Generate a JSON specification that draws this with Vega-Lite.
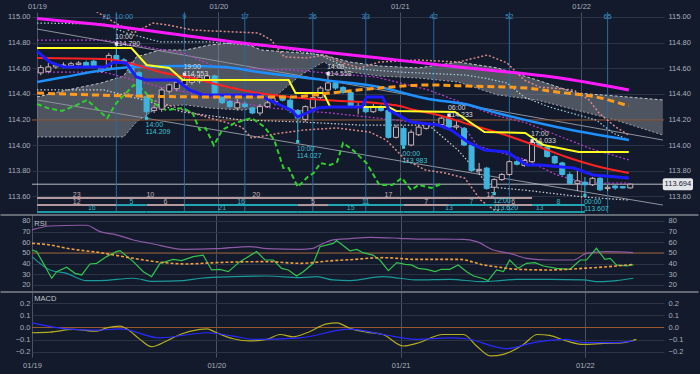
{
"$schema": "https://vega.github.io/schema/vega-lite/v6.json",
"background": "#131a2b",
"padding": 0,
"autosize": {"type": "pad"},
"bounds": "flush",
"spacing": 2,
"config": {
  "view": {"stroke": null},
  "font": "Liberation Sans",
  "axis": {"labelColor": "#a9b0bd", "labelFont": "Liberation Sans", "labelFontSize": 7.5, "domain": false, "ticks": false, "title": null, "gridColor": "#2b3345", "gridWidth": 1, "labelFlush": false, "labelOverlap": false}
},
"datasets": {
  "candles": [
    {"t":0.5,"o":114.563,"h":114.625,"l":114.545,"c":114.605},
    {"t":1.5,"o":114.575,"h":114.64,"l":114.56,"c":114.61},
    {"t":2.5,"o":114.61,"h":114.64,"l":114.595,"c":114.625},
    {"t":3.5,"o":114.62,"h":114.645,"l":114.6,"c":114.625},
    {"t":4.5,"o":114.62,"h":114.65,"l":114.61,"c":114.635},
    {"t":5.5,"o":114.63,"h":114.655,"l":114.62,"c":114.64},
    {"t":6.5,"o":114.645,"h":114.66,"l":114.6,"c":114.615},
    {"t":7.5,"o":114.655,"h":114.665,"l":114.6,"c":114.61},
    {"t":8.5,"o":114.575,"h":114.61,"l":114.565,"c":114.6},
    {"t":9.5,"o":114.6,"h":114.72,"l":114.58,"c":114.7},
    {"t":10.5,"o":114.7,"h":114.79,"l":114.65,"c":114.665},
    {"t":11.5,"o":114.665,"h":114.68,"l":114.63,"c":114.64},
    {"t":12.5,"o":114.64,"h":114.65,"l":114.56,"c":114.565},
    {"t":13.5,"o":114.565,"h":114.58,"l":114.38,"c":114.39},
    {"t":14.5,"o":114.38,"h":114.39,"l":114.209,"c":114.26},
    {"t":15.5,"o":114.27,"h":114.31,"l":114.25,"c":114.29},
    {"t":16.5,"o":114.28,"h":114.45,"l":114.26,"c":114.43},
    {"t":17.5,"o":114.42,"h":114.48,"l":114.4,"c":114.47},
    {"t":18.5,"o":114.44,"h":114.5,"l":114.42,"c":114.49},
    {"t":19.5,"o":114.47,"h":114.553,"l":114.45,"c":114.51},
    {"t":20.5,"o":114.49,"h":114.55,"l":114.47,"c":114.54},
    {"t":21.5,"o":114.5,"h":114.55,"l":114.48,"c":114.53},
    {"t":22.5,"o":114.5,"h":114.55,"l":114.49,"c":114.54},
    {"t":23.5,"o":114.54,"h":114.55,"l":114.36,"c":114.39},
    {"t":24.5,"o":114.39,"h":114.4,"l":114.32,"c":114.33},
    {"t":25.5,"o":114.34,"h":114.35,"l":114.29,"c":114.3},
    {"t":26.5,"o":114.29,"h":114.36,"l":114.27,"c":114.33},
    {"t":27.5,"o":114.32,"h":114.34,"l":114.29,"c":114.3},
    {"t":28.5,"o":114.29,"h":114.3,"l":114.24,"c":114.25},
    {"t":29.5,"o":114.25,"h":114.32,"l":114.23,"c":114.3},
    {"t":30.5,"o":114.3,"h":114.36,"l":114.29,"c":114.33},
    {"t":31.5,"o":114.33,"h":114.37,"l":114.31,"c":114.34},
    {"t":32.5,"o":114.37,"h":114.39,"l":114.34,"c":114.35},
    {"t":33.5,"o":114.35,"h":114.38,"l":114.25,"c":114.27},
    {"t":34.5,"o":114.27,"h":114.28,"l":114.027,"c":114.21},
    {"t":35.5,"o":114.2,"h":114.31,"l":114.18,"c":114.3},
    {"t":36.5,"o":114.29,"h":114.38,"l":114.28,"c":114.37},
    {"t":37.5,"o":114.37,"h":114.46,"l":114.36,"c":114.445},
    {"t":38.5,"o":114.43,"h":114.558,"l":114.42,"c":114.485},
    {"t":39.5,"o":114.485,"h":114.5,"l":114.43,"c":114.445},
    {"t":40.5,"o":114.45,"h":114.46,"l":114.4,"c":114.41},
    {"t":41.5,"o":114.41,"h":114.42,"l":114.29,"c":114.3},
    {"t":42.5,"o":114.3,"h":114.33,"l":114.24,"c":114.305},
    {"t":43.5,"o":114.3,"h":114.31,"l":114.25,"c":114.26},
    {"t":44.5,"o":114.26,"h":114.32,"l":114.25,"c":114.3},
    {"t":45.5,"o":114.3,"h":114.31,"l":114.26,"c":114.27},
    {"t":46.5,"o":114.27,"h":114.28,"l":114.05,"c":114.06},
    {"t":47.5,"o":114.06,"h":114.16,"l":114.05,"c":114.14},
    {"t":48.5,"o":114.13,"h":114.15,"l":113.983,"c":114.0},
    {"t":49.5,"o":114.0,"h":114.12,"l":113.99,"c":114.1},
    {"t":50.5,"o":114.08,"h":114.16,"l":114.07,"c":114.14},
    {"t":51.5,"o":114.13,"h":114.17,"l":114.12,"c":114.16},
    {"t":52.5,"o":114.16,"h":114.18,"l":114.14,"c":114.165},
    {"t":53.5,"o":114.16,"h":114.22,"l":114.15,"c":114.21},
    {"t":54.5,"o":114.21,"h":114.233,"l":114.13,"c":114.14},
    {"t":55.5,"o":114.14,"h":114.19,"l":114.12,"c":114.15},
    {"t":56.5,"o":114.13,"h":114.14,"l":113.99,"c":114.0},
    {"t":57.5,"o":114.0,"h":114.01,"l":113.79,"c":113.8},
    {"t":58.5,"o":113.8,"h":113.86,"l":113.77,"c":113.81},
    {"t":59.5,"o":113.82,"h":113.83,"l":113.65,"c":113.66},
    {"t":60.5,"o":113.67,"h":113.74,"l":113.62,"c":113.73},
    {"t":61.5,"o":113.73,"h":113.78,"l":113.72,"c":113.77},
    {"t":62.5,"o":113.77,"h":113.88,"l":113.76,"c":113.87},
    {"t":63.5,"o":113.87,"h":113.89,"l":113.84,"c":113.85},
    {"t":64.5,"o":113.84,"h":113.89,"l":113.83,"c":113.88},
    {"t":65.5,"o":113.87,"h":114.033,"l":113.86,"c":114.02},
    {"t":66.5,"o":114.02,"h":114.03,"l":113.98,"c":113.99},
    {"t":67.5,"o":113.98,"h":113.99,"l":113.9,"c":113.91},
    {"t":68.5,"o":113.91,"h":113.92,"l":113.85,"c":113.86},
    {"t":69.5,"o":113.86,"h":113.87,"l":113.76,"c":113.77},
    {"t":70.5,"o":113.77,"h":113.79,"l":113.69,"c":113.7},
    {"t":71.5,"o":113.7,"h":113.8,"l":113.64,"c":113.72},
    {"t":72.5,"o":113.71,"h":113.75,"l":113.607,"c":113.69},
    {"t":73.5,"o":113.69,"h":113.75,"l":113.68,"c":113.74},
    {"t":74.5,"o":113.74,"h":113.75,"l":113.64,"c":113.65},
    {"t":75.5,"o":113.66,"h":113.69,"l":113.64,"c":113.67},
    {"t":76.5,"o":113.68,"h":113.69,"l":113.65,"c":113.665},
    {"t":77.5,"o":113.675,"h":113.68,"l":113.66,"c":113.665},
    {"t":78.5,"o":113.665,"h":113.7,"l":113.66,"c":113.694}
  ],
  "magenta": [{"t":0,"p":114.988},{"t":7.55,"p":114.945},{"t":27.1,"p":114.797},{"t":45.3,"p":114.68},{"t":55.7,"p":114.609},{"t":68.75,"p":114.527},{"t":78.3,"p":114.43}],
  "orange": [{"t":0,"p":114.406},{"t":7.55,"p":114.391},{"t":24.5,"p":114.375},{"t":33.6,"p":114.375},{"t":38.8,"p":114.406},{"t":45.3,"p":114.445},{"t":51.8,"p":114.469},{"t":57.0,"p":114.461},{"t":64.8,"p":114.445},{"t":68.75,"p":114.414},{"t":74.0,"p":114.375},{"t":78.3,"p":114.305}],
  "lightblue": [{"t":0,"p":114.492},{"t":3.65,"p":114.531},{"t":8.85,"p":114.586},{"t":12.76,"p":114.609},{"t":19.3,"p":114.617},{"t":24.7,"p":114.609},{"t":29.3,"p":114.57},{"t":37.9,"p":114.508},{"t":45.3,"p":114.453},{"t":51.8,"p":114.36},{"t":56.6,"p":114.32},{"t":60.9,"p":114.25},{"t":68.75,"p":114.141},{"t":78.3,"p":114.039}],
  "red": [{"t":0,"p":114.68},{"t":9.0,"p":114.672},{"t":14.06,"p":114.61},{"t":16.3,"p":114.57},{"t":20.6,"p":114.523},{"t":24.1,"p":114.469},{"t":29.3,"p":114.406},{"t":33.6,"p":114.375},{"t":37.9,"p":114.352},{"t":44.9,"p":114.328},{"t":47.5,"p":114.31},{"t":50.0,"p":114.273},{"t":53.1,"p":114.234},{"t":57.0,"p":114.164},{"t":62.0,"p":114.078},{"t":66.15,"p":113.992},{"t":70.05,"p":113.906},{"t":73.96,"p":113.836},{"t":78.3,"p":113.781}],
  "yellow": [{"t":0,"p":114.758},{"t":12.5,"p":114.758},{"t":14.5,"p":114.625},{"t":17.5,"p":114.602},{"t":19.3,"p":114.508},{"t":33.3,"p":114.508},{"t":34.2,"p":114.406},{"t":37.9,"p":114.406},{"t":38.8,"p":114.297},{"t":46.5,"p":114.297},{"t":47.5,"p":114.266},{"t":55.3,"p":114.258},{"t":59.2,"p":114.102},{"t":64.6,"p":114.094},{"t":67.0,"p":114.0},{"t":71.7,"p":113.945},{"t":78.3,"p":113.945}],
  "darkblue": [{"t":0,"p":114.734},{"t":1.7,"p":114.648},{"t":3.6,"p":114.609},{"t":8.9,"p":114.609},{"t":10.2,"p":114.648},{"t":11.8,"p":114.641},{"t":13.15,"p":114.531},{"t":14.45,"p":114.508},{"t":18.4,"p":114.508},{"t":20.2,"p":114.43},{"t":21.9,"p":114.391},{"t":29.3,"p":114.391},{"t":33.6,"p":114.273},{"t":34.5,"p":114.219},{"t":37.2,"p":114.289},{"t":38.8,"p":114.297},{"t":43.0,"p":114.297},{"t":43.6,"p":114.375},{"t":45.7,"p":114.375},{"t":46.6,"p":114.273},{"t":49.5,"p":114.18},{"t":53.1,"p":114.156},{"t":54.8,"p":114.117},{"t":57.0,"p":114.023},{"t":59.2,"p":113.961},{"t":62.2,"p":113.945},{"t":64.8,"p":113.844},{"t":66.5,"p":113.844},{"t":71.0,"p":113.82},{"t":73.6,"p":113.766},{"t":78.3,"p":113.742}],
  "chikou": [{"t":0,"p":114.32},{"t":1.4,"p":114.289},{"t":3.3,"p":114.266},{"t":5.3,"p":114.313},{"t":6.6,"p":114.352},{"t":9.3,"p":114.211},{"t":10.5,"p":114.328},{"t":12.8,"p":114.469},{"t":14.1,"p":114.43},{"t":15.4,"p":114.328},{"t":17.1,"p":114.273},{"t":19.3,"p":114.289},{"t":20.6,"p":114.25},{"t":21.5,"p":114.117},{"t":22.3,"p":114.133},{"t":23.4,"p":113.997},{"t":24.5,"p":114.117},{"t":26.2,"p":114.172},{"t":28.4,"p":114.211},{"t":30.1,"p":114.141},{"t":31.4,"p":114.039},{"t":32.6,"p":113.82},{"t":33.3,"p":113.82},{"t":34.5,"p":113.672},{"t":35.8,"p":113.75},{"t":36.6,"p":113.781},{"t":37.5,"p":113.859},{"t":38.8,"p":113.844},{"t":39.7,"p":113.867},{"t":40.5,"p":114.016},{"t":41.8,"p":113.961},{"t":43.6,"p":113.859},{"t":45.3,"p":113.688},{"t":47.0,"p":113.688},{"t":48.3,"p":113.742},{"t":49.5,"p":113.648},{"t":50.5,"p":113.688},{"t":52.2,"p":113.664},{"t":53.4,"p":113.695}],
  "bbU1": [{"t":0,"p":114.82},{"t":8.85,"p":114.82},{"t":19.27,"p":114.719},{"t":24.1,"p":114.602},{"t":33.6,"p":114.586},{"t":44.9,"p":114.531},{"t":51.8,"p":114.43},{"t":60.5,"p":114.234},{"t":64.8,"p":114.172},{"t":73.0,"p":113.977},{"t":78.3,"p":113.883}],
  "bbL1": [{"t":0,"p":114.57},{"t":8.85,"p":114.57},{"t":16.3,"p":114.453},{"t":27.1,"p":114.328},{"t":31.0,"p":114.289},{"t":38.8,"p":114.25},{"t":47.5,"p":114.195},{"t":56.6,"p":114.133},{"t":58.3,"p":113.992},{"t":64.8,"p":113.883},{"t":68.75,"p":113.766},{"t":72.66,"p":113.703},{"t":78.3,"p":113.703}],
  "bbU2": [{"t":0,"p":114.953},{"t":8.85,"p":114.945},{"t":11.85,"p":114.875},{"t":16.3,"p":114.805},{"t":22.8,"p":114.805},{"t":31.4,"p":114.766},{"t":37.5,"p":114.703},{"t":41.0,"p":114.602},{"t":47.9,"p":114.57},{"t":56.6,"p":114.547},{"t":59.2,"p":114.523},{"t":62.2,"p":114.484},{"t":64.45,"p":114.375},{"t":67.8,"p":114.297},{"t":74.0,"p":114.195},{"t":76.2,"p":114.094},{"t":78.3,"p":114.039}],
  "bbL2": [{"t":0,"p":114.43},{"t":8.85,"p":114.43},{"t":14.06,"p":114.352},{"t":19.27,"p":114.258},{"t":27.1,"p":114.195},{"t":34.9,"p":114.18},{"t":42.7,"p":114.156},{"t":51.8,"p":114.156},{"t":55.7,"p":113.961},{"t":60.0,"p":113.672},{"t":64.45,"p":113.648},{"t":72.3,"p":113.594},{"t":78.3,"p":113.57}],
  "bbU3": [{"t":0,"p":115.07},{"t":7.55,"p":115.055},{"t":9.25,"p":114.992},{"t":12.76,"p":114.875},{"t":15.36,"p":114.953},{"t":17.3,"p":114.938},{"t":20.6,"p":114.898},{"t":29.3,"p":114.875},{"t":31.0,"p":114.82},{"t":32.7,"p":114.688},{"t":35.8,"p":114.68},{"t":37.9,"p":114.703},{"t":40.5,"p":114.641},{"t":42.7,"p":114.602},{"t":45.3,"p":114.648},{"t":50.5,"p":114.664},{"t":55.7,"p":114.648},{"t":59.6,"p":114.703},{"t":62.2,"p":114.641},{"t":64.45,"p":114.508},{"t":66.5,"p":114.453},{"t":71.0,"p":114.43},{"t":73.05,"p":114.352},{"t":74.35,"p":114.25},{"t":76.56,"p":114.141},{"t":78.3,"p":114.078}],
  "bbL3": [{"t":11.46,"p":114.406},{"t":14.45,"p":114.367},{"t":20.6,"p":114.25},{"t":27.1,"p":114.141},{"t":28.4,"p":114.055},{"t":32.3,"p":114.094},{"t":35.3,"p":114.117},{"t":39.7,"p":114.133},{"t":44.0,"p":114.102},{"t":46.2,"p":114.039},{"t":48.8,"p":113.883},{"t":51.4,"p":113.805},{"t":54.0,"p":113.781},{"t":56.6,"p":113.742},{"t":58.7,"p":113.57},{"t":60.5,"p":113.492},{"t":64.8,"p":113.445},{"t":78.3,"p":113.445}],
  "cloud": [{"t":0,"u":114.375,"l":114.063},{"t":4.04,"u":114.43,"l":114.063},{"t":8.46,"u":114.484,"l":114.063},{"t":11.46,"u":114.539,"l":114.063},{"t":13.15,"u":114.688,"l":114.18},{"t":16.28,"u":114.742,"l":114.305},{"t":19.66,"u":114.742,"l":114.313},{"t":22.79,"u":114.781,"l":114.289},{"t":27.08,"u":114.805,"l":114.273},{"t":29.69,"u":114.742,"l":114.289},{"t":34.9,"u":114.719,"l":114.547},{"t":37.89,"u":114.703,"l":114.648},{"t":41.41,"u":114.648,"l":114.57},{"t":45.31,"u":114.617,"l":114.539},{"t":50.52,"u":114.602,"l":114.523},{"t":55.73,"u":114.648,"l":114.492},{"t":60.94,"u":114.602,"l":114.391},{"t":66.15,"u":114.508,"l":114.352},{"t":71.35,"u":114.406,"l":114.273},{"t":76.56,"u":114.383,"l":114.195},{"t":82.81,"u":114.352,"l":114.078}],
  "trend": [{"id":1,"t":0,"p":114.906},{"id":1,"t":82.81,"p":114.039},{"id":2,"t":0,"p":114.352},{"id":2,"t":82.81,"p":113.531}],
  "level": [{"p":114.195}],
  "last": [{"p":113.694,"s":"113.694"}],
  "cyc": [{"t":10.5},{"t":19.5},{"t":27.5},{"t":36.5},{"t":43.5},{"t":52.5},{"t":62.5},{"t":75.5}],
  "cycText": [{"t":9.2,"n":"26"},{"t":11.5,"n":"10:00"},{"t":19.5,"n":"9"},{"t":27.5,"n":"17"},{"t":36.5,"n":"26"},{"t":43.5,"n":"33"},{"t":52.5,"n":"42"},{"t":62.5,"n":"52"},{"t":75.5,"n":"65"}],
  "ann": [
    {"t":10.5,"p":114.79,"k":"hi","s":"10:00\n114.790"},
    {"t":14.5,"p":114.209,"k":"lo","s":"14:00\n114.209"},
    {"t":19.5,"p":114.553,"k":"hi","s":"19:00\n114.553"},
    {"t":34.5,"p":114.027,"k":"lo","s":"10:00\n114.027"},
    {"t":38.5,"p":114.558,"k":"hi","s":"14:00\n114.558"},
    {"t":48.5,"p":113.983,"k":"lo","s":"00:00\n113.983"},
    {"t":54.5,"p":114.233,"k":"hi","s":"06:00\n114.233"},
    {"t":60.5,"p":113.62,"k":"lo","s":"12:00\n113.620"},
    {"t":65.5,"p":114.033,"k":"hi","s":"17:00\n114.033"},
    {"t":72.5,"p":113.607,"k":"lo","s":"00:00\n113.607"}
  ],
  "r1": [{"a":0,"b":10.5,"m":5.25,"n":"23"},{"a":10.5,"b":19.5,"m":15,"n":"10"},{"a":19.5,"b":38.5,"m":29,"n":"20"},{"a":38.5,"b":54.5,"m":46.5,"n":"17"},{"a":54.5,"b":65.5,"m":60,"n":"12"}],
  "r2": [{"a":0,"b":10.5,"m":5.25,"n":"12","k":"up"},{"a":10.5,"b":14.5,"m":12.5,"n":"5","k":"dn"},{"a":14.5,"b":19.5,"m":17,"n":"6","k":"up"},{"a":19.5,"b":34.5,"m":27,"n":"16","k":"dn"},{"a":34.5,"b":38.5,"m":36.5,"n":"5","k":"up"},{"a":38.5,"b":48.5,"m":43.5,"n":"11","k":"dn"},{"a":48.5,"b":54.5,"m":51.5,"n":"7","k":"up"},{"a":54.5,"b":60.5,"m":57.5,"n":"7","k":"dn"},{"a":60.5,"b":65.5,"m":63,"n":"6","k":"up"},{"a":65.5,"b":72.5,"m":69,"n":"8","k":"dn"}],
  "r3": [{"a":0,"b":14.5,"m":7.25,"n":"16"},{"a":14.5,"b":34.5,"m":24.5,"n":"21"},{"a":34.5,"b":48.5,"m":41.5,"n":"15"},{"a":48.5,"b":60.5,"m":54.5,"n":"13"},{"a":60.5,"b":72.5,"m":66.5,"n":"13"}],
  "sep": [{"a":-4.1,"b":86.8}],
  "rsiRef": [{"v":50}],
  "macdRef": [{"v":0}],
  "rsiP": [{"t":0,"v":71.6},{"t":2.34,"v":75.3},{"t":6.25,"v":76},{"t":7.12,"v":76},{"t":8.85,"v":70},{"t":11.0,"v":67},{"t":13.2,"v":62.2},{"t":15.4,"v":59.1},{"t":19.7,"v":53.4},{"t":24.0,"v":54},{"t":28.4,"v":56},{"t":30.6,"v":54},{"t":34.9,"v":53.4},{"t":36.6,"v":54.4},{"t":37.5,"v":57.5},{"t":39.2,"v":62.2},{"t":41.4,"v":63.5},{"t":44.0,"v":64.7},{"t":47.9,"v":63.75},{"t":50.1,"v":63},{"t":56.2,"v":62.8},{"t":57.9,"v":60.6},{"t":60.1,"v":52.8},{"t":62.2,"v":49.7},{"t":64.4,"v":45},{"t":67.4,"v":43.4},{"t":70.5,"v":43.4},{"t":72.2,"v":49.7},{"t":74.8,"v":51.3},{"t":78.3,"v":50.3}],
  "rsiG": [{"t":0,"v":52.8},{"t":0.61,"v":51.3},{"t":1.48,"v":40.3},{"t":2.56,"v":26.3},{"t":3.21,"v":32.5},{"t":4.51,"v":36.6},{"t":5.6,"v":30.9},{"t":6.47,"v":29.4},{"t":7.55,"v":39.7},{"t":8.42,"v":40.3},{"t":9.72,"v":46.6},{"t":11.0,"v":51.3},{"t":11.46,"v":52.2},{"t":13.19,"v":41.9},{"t":14.5,"v":32.5},{"t":15.58,"v":27.8},{"t":16.67,"v":40.3},{"t":18.4,"v":44},{"t":19.49,"v":42.8},{"t":21.0,"v":46.6},{"t":22.3,"v":48},{"t":23.39,"v":34.1},{"t":24.48,"v":34.7},{"t":25.56,"v":32.5},{"t":27.08,"v":41.9},{"t":29.25,"v":51.3},{"t":30.34,"v":43.4},{"t":31.42,"v":43.4},{"t":32.51,"v":35.6},{"t":33.38,"v":34.1},{"t":34.46,"v":28.4},{"t":35.33,"v":32.5},{"t":36.63,"v":40.3},{"t":37.5,"v":55.9},{"t":39.24,"v":59},{"t":39.67,"v":61.6},{"t":41.4,"v":52},{"t":42.3,"v":53.4},{"t":43.1,"v":50.3},{"t":44.4,"v":48},{"t":45.3,"v":43.4},{"t":46.4,"v":33.4},{"t":47.5,"v":41},{"t":48.6,"v":39.4},{"t":49.4,"v":38.8},{"t":50.3,"v":35.6},{"t":51.4,"v":34.7},{"t":52.5,"v":32.5},{"t":53.3,"v":34.7},{"t":54.4,"v":34.7},{"t":55.5,"v":38.8},{"t":56.6,"v":32.5},{"t":57.5,"v":28.4},{"t":58.6,"v":26.3},{"t":59.4,"v":24.1},{"t":60.5,"v":34.1},{"t":61.4,"v":32.5},{"t":62.2,"v":43.4},{"t":63.3,"v":35.6},{"t":64.4,"v":40.3},{"t":65.5,"v":41},{"t":66.6,"v":37.8},{"t":68.3,"v":35.6},{"t":70.05,"v":34.7},{"t":71.4,"v":43.4},{"t":72.2,"v":43.4},{"t":73.5,"v":54.4},{"t":74.6,"v":44},{"t":75.3,"v":45},{"t":76.1,"v":38.8},{"t":77.4,"v":37.8},{"t":78.3,"v":38.8}],
  "rsiT": [{"t":0,"v":46.6},{"t":2.34,"v":34.1},{"t":4.51,"v":30.9},{"t":7.12,"v":24.1},{"t":8.85,"v":24.1},{"t":13.2,"v":26.3},{"t":15.8,"v":23.4},{"t":19.7,"v":24.1},{"t":21.9,"v":26.3},{"t":26.2,"v":27.8},{"t":30.6,"v":28.4},{"t":34.9,"v":26.9},{"t":37.1,"v":27.8},{"t":39.2,"v":24.7},{"t":41.4,"v":24.1},{"t":45.7,"v":27.8},{"t":47.9,"v":26.3},{"t":50.1,"v":24.7},{"t":54.4,"v":25.3},{"t":58.8,"v":23.1},{"t":60.9,"v":24.1},{"t":63.1,"v":25.3},{"t":67.4,"v":25.3},{"t":71.8,"v":24.7},{"t":73.9,"v":23.1},{"t":76.1,"v":24.1},{"t":78.3,"v":26.3}],
  "rsiO": [{"t":0,"v":59},{"t":2.34,"v":57.5},{"t":4.51,"v":54.4},{"t":8.85,"v":50.3},{"t":13.2,"v":45},{"t":16.7,"v":41.3},{"t":20.1,"v":39.7},{"t":24.0,"v":41},{"t":30.6,"v":41.9},{"t":34.9,"v":40.3},{"t":39.2,"v":42.8},{"t":41.4,"v":43.7},{"t":45.7,"v":45.6},{"t":50.1,"v":44},{"t":55.7,"v":44},{"t":58.8,"v":38.8},{"t":60.9,"v":36.6},{"t":63.1,"v":34.7},{"t":67.4,"v":34.1},{"t":71.8,"v":35.6},{"t":76.1,"v":37.8},{"t":78.3,"v":39.4}],
  "macdY": [{"t":0,"v":-0.043},{"t":2.34,"v":-0.038},{"t":5.38,"v":-0.016},{"t":8.42,"v":-0.03},{"t":9.72,"v":-0.003},{"t":11.46,"v":0.011},{"t":12.33,"v":-0.01},{"t":14.06,"v":-0.097},{"t":15.58,"v":-0.157},{"t":17.53,"v":-0.11},{"t":19.27,"v":-0.057},{"t":21.88,"v":-0.016},{"t":22.74,"v":-0.011},{"t":24.05,"v":-0.043},{"t":26.2,"v":-0.092},{"t":28.4,"v":-0.11},{"t":30.6,"v":-0.097},{"t":32.3,"v":-0.057},{"t":34.0,"v":-0.076},{"t":35.8,"v":-0.043},{"t":38.4,"v":0.03},{"t":39.7,"v":0.038},{"t":41.4,"v":-0.007},{"t":43.6,"v":-0.038},{"t":45.7,"v":-0.057},{"t":48.3,"v":-0.151},{"t":50.1,"v":-0.13},{"t":53.5,"v":-0.057},{"t":56.2,"v":-0.057},{"t":57.9,"v":-0.151},{"t":59.7,"v":-0.232},{"t":61.4,"v":-0.219},{"t":64.0,"v":-0.138},{"t":65.8,"v":-0.057},{"t":67.4,"v":-0.065},{"t":69.6,"v":-0.11},{"t":71.8,"v":-0.138},{"t":74.4,"v":-0.13},{"t":77.0,"v":-0.124},{"t":78.7,"v":-0.097}],
  "macdB": [{"t":0,"v":0.038},{"t":4.51,"v":-0.011},{"t":8.42,"v":-0.022},{"t":11.46,"v":-0.011},{"t":16.67,"v":-0.084},{"t":22.74,"v":-0.043},{"t":26.2,"v":-0.07},{"t":28.8,"v":-0.097},{"t":34.9,"v":-0.084},{"t":41.4,"v":-0.013},{"t":45.7,"v":-0.057},{"t":50.1,"v":-0.097},{"t":54.4,"v":-0.084},{"t":56.6,"v":-0.092},{"t":61.8,"v":-0.173},{"t":65.3,"v":-0.124},{"t":69.6,"v":-0.097},{"t":71.8,"v":-0.124},{"t":76.1,"v":-0.124},{"t":78.3,"v":-0.11}]
},
"vconcat": [
{
  "width": 632, "height": 201,
  "resolve": {"axis": {"x": "independent", "y": "independent"}},
  "layer": [
    {"data": {"name": "cloud"}, "mark": {"type": "area", "clip": true, "color": "#8a8e96", "opacity": 0.5},
     "encoding": {"x": {"field": "t", "type": "quantitative", "scale": {"domain": [0, 82.3], "nice": false, "zero": false}, "axis": null},
                  "y": {"field": "u", "type": "quantitative", "scale": {"domain": [113.469, 115.039], "nice": false, "zero": false}, "axis": null},
                  "y2": {"field": "l"}}},
    {"data": {"name": "cloud"}, "mark": {"type": "line", "clip": true, "color": "#c4c8cc", "strokeWidth": 1, "strokeDash": [3, 2]},
     "encoding": {"x": {"field": "t", "type": "quantitative", "scale": {"domain": [0, 82.3], "nice": false, "zero": false}, "axis": null},
                  "y": {"field": "u", "type": "quantitative", "scale": {"domain": [113.469, 115.039], "nice": false, "zero": false}, "axis": null}}},
    {"data": {"name": "cloud"}, "mark": {"type": "line", "clip": true, "color": "#9ea3a8", "strokeWidth": 1, "strokeDash": [2, 2]},
     "encoding": {"x": {"field": "t", "type": "quantitative", "scale": {"domain": [0, 82.3], "nice": false, "zero": false}, "axis": null},
                  "y": {"field": "l", "type": "quantitative", "scale": {"domain": [113.469, 115.039], "nice": false, "zero": false}, "axis": null}}},
    {"data": {"name": "trend"}, "mark": {"type": "line", "clip": true, "color": "#8e939c", "strokeWidth": 1},
     "encoding": {"x": {"field": "t", "type": "quantitative", "scale": {"domain": [0, 82.3], "nice": false, "zero": false}, "axis": null},
                  "y": {"field": "p", "type": "quantitative", "scale": {"domain": [113.469, 115.039], "nice": false, "zero": false}, "axis": null},
                  "detail": {"field": "id"}}},
    {"data": {"name": "level"}, "mark": {"type": "rule", "color": "#8a4f2c", "strokeWidth": 1},
     "encoding": {"y": {"field": "p", "type": "quantitative", "scale": {"domain": [113.469, 115.039], "nice": false, "zero": false}, "axis": null}}},
    {"data": {"name": "last"}, "mark": {"type": "rule", "color": "#b8bcc4", "strokeWidth": 1},
     "encoding": {"y": {"field": "p", "type": "quantitative", "scale": {"domain": [113.469, 115.039], "nice": false, "zero": false}, "axis": null}}},
    {"data": {"name": "cyc"}, "mark": {"type": "rule", "color": "#2b6a9c", "strokeWidth": 1},
     "encoding": {"x": {"field": "t", "type": "quantitative", "scale": {"domain": [0, 82.3], "nice": false, "zero": false}, "axis": null}}},
    {"data": {"name": "bbU3"}, "mark": {"type": "line", "clip": true, "color": "#d88a8a", "strokeWidth": 1.5, "strokeDash": [2, 2]},
     "encoding": {"x": {"field": "t", "type": "quantitative", "scale": {"domain": [0, 82.3], "nice": false, "zero": false}, "axis": null},
                  "y": {"field": "p", "type": "quantitative", "scale": {"domain": [113.469, 115.039], "nice": false, "zero": false}, "axis": null}}},
    {"data": {"name": "bbL3"}, "mark": {"type": "line", "clip": true, "color": "#d88a8a", "strokeWidth": 1.5, "strokeDash": [2, 2]},
     "encoding": {"x": {"field": "t", "type": "quantitative", "scale": {"domain": [0, 82.3], "nice": false, "zero": false}, "axis": null},
                  "y": {"field": "p", "type": "quantitative", "scale": {"domain": [113.469, 115.039], "nice": false, "zero": false}, "axis": null}}},
    {"data": {"name": "bbU2"}, "mark": {"type": "line", "clip": true, "color": "#a8d0d8", "strokeWidth": 1.2, "strokeDash": [1.5, 2]},
     "encoding": {"x": {"field": "t", "type": "quantitative", "scale": {"domain": [0, 82.3], "nice": false, "zero": false}, "axis": null},
                  "y": {"field": "p", "type": "quantitative", "scale": {"domain": [113.469, 115.039], "nice": false, "zero": false}, "axis": null}}},
    {"data": {"name": "bbL2"}, "mark": {"type": "line", "clip": true, "color": "#d0d4da", "strokeWidth": 1.2, "strokeDash": [1.5, 2]},
     "encoding": {"x": {"field": "t", "type": "quantitative", "scale": {"domain": [0, 82.3], "nice": false, "zero": false}, "axis": null},
                  "y": {"field": "p", "type": "quantitative", "scale": {"domain": [113.469, 115.039], "nice": false, "zero": false}, "axis": null}}},
    {"data": {"name": "bbU1"}, "mark": {"type": "line", "clip": true, "color": "#b03cc8", "strokeWidth": 1.3, "strokeDash": [2, 2]},
     "encoding": {"x": {"field": "t", "type": "quantitative", "scale": {"domain": [0, 82.3], "nice": false, "zero": false}, "axis": null},
                  "y": {"field": "p", "type": "quantitative", "scale": {"domain": [113.469, 115.039], "nice": false, "zero": false}, "axis": null}}},
    {"data": {"name": "bbL1"}, "mark": {"type": "line", "clip": true, "color": "#b03cc8", "strokeWidth": 1.3, "strokeDash": [2, 2]},
     "encoding": {"x": {"field": "t", "type": "quantitative", "scale": {"domain": [0, 82.3], "nice": false, "zero": false}, "axis": null},
                  "y": {"field": "p", "type": "quantitative", "scale": {"domain": [113.469, 115.039], "nice": false, "zero": false}, "axis": null}}},
    {"data": {"name": "chikou"}, "mark": {"type": "line", "clip": true, "color": "#2ed02e", "strokeWidth": 2, "strokeDash": [5, 3]},
     "encoding": {"x": {"field": "t", "type": "quantitative", "scale": {"domain": [0, 82.3], "nice": false, "zero": false}, "axis": null},
                  "y": {"field": "p", "type": "quantitative", "scale": {"domain": [113.469, 115.039], "nice": false, "zero": false}, "axis": null}}},
    {"data": {"name": "candles"}, "mark": {"type": "rule", "strokeWidth": 1},
     "encoding": {"x": {"field": "t", "type": "quantitative", "scale": {"domain": [0, 82.3], "nice": false, "zero": false},
                        "axis": {"orient": "top", "values": [0, 24, 48, 72], "labelExpr": "datum.value == 0 ? '01/19' : datum.value == 24 ? '01/20' : datum.value == 48 ? '01/21' : '01/22'", "grid": true, "gridColor": "#4a5366", "labelPadding": 2, "minExtent": 12, "maxExtent": 12}},
                  "y": {"field": "l", "type": "quantitative", "scale": {"domain": [113.469, 115.039], "nice": false, "zero": false},
                        "axis": {"orient": "left", "values": [113.6, 113.8, 114.0, 114.2, 114.4, 114.6, 114.8, 115.0], "format": ".2f", "grid": true, "labelPadding": 2, "minExtent": 32, "maxExtent": 32}},
                  "y2": {"field": "h"},
                  "color": {"condition": {"test": "datum.c >= datum.o", "value": "#c9b3b8"}, "value": "#40b4de"}}},
    {"data": {"name": "candles"}, "mark": {"type": "bar", "width": 5, "strokeWidth": 1},
     "encoding": {"x": {"field": "t", "type": "quantitative", "scale": {"domain": [0, 82.3], "nice": false, "zero": false}, "axis": null},
                  "y": {"field": "o", "type": "quantitative", "scale": {"domain": [113.469, 115.039], "nice": false, "zero": false},
                        "axis": {"orient": "right", "values": [113.6, 113.8, 114.0, 114.2, 114.4, 114.6, 114.8, 115.0], "format": ".2f", "grid": false, "labelPadding": 4, "minExtent": 36, "maxExtent": 36}},
                  "y2": {"field": "c"},
                  "fill": {"condition": {"test": "datum.c >= datum.o", "value": "#131a2b"}, "value": "#40b4de"},
                  "stroke": {"condition": {"test": "datum.c >= datum.o", "value": "#c9b3b8"}, "value": "#40b4de"}}},
    {"data": {"name": "lightblue"}, "mark": {"type": "line", "clip": true, "color": "#1e90ff", "strokeWidth": 2.5, "interpolate": "monotone"},
     "encoding": {"x": {"field": "t", "type": "quantitative", "scale": {"domain": [0, 82.3], "nice": false, "zero": false}, "axis": null},
                  "y": {"field": "p", "type": "quantitative", "scale": {"domain": [113.469, 115.039], "nice": false, "zero": false}, "axis": null}}},
    {"data": {"name": "red"}, "mark": {"type": "line", "clip": true, "color": "#ff2222", "strokeWidth": 2, "interpolate": "monotone"},
     "encoding": {"x": {"field": "t", "type": "quantitative", "scale": {"domain": [0, 82.3], "nice": false, "zero": false}, "axis": null},
                  "y": {"field": "p", "type": "quantitative", "scale": {"domain": [113.469, 115.039], "nice": false, "zero": false}, "axis": null}}},
    {"data": {"name": "yellow"}, "mark": {"type": "line", "clip": true, "color": "#ffff22", "strokeWidth": 2},
     "encoding": {"x": {"field": "t", "type": "quantitative", "scale": {"domain": [0, 82.3], "nice": false, "zero": false}, "axis": null},
                  "y": {"field": "p", "type": "quantitative", "scale": {"domain": [113.469, 115.039], "nice": false, "zero": false}, "axis": null}}},
    {"data": {"name": "darkblue"}, "mark": {"type": "line", "clip": true, "color": "#1c1cff", "strokeWidth": 3},
     "encoding": {"x": {"field": "t", "type": "quantitative", "scale": {"domain": [0, 82.3], "nice": false, "zero": false}, "axis": null},
                  "y": {"field": "p", "type": "quantitative", "scale": {"domain": [113.469, 115.039], "nice": false, "zero": false}, "axis": null}}},
    {"data": {"name": "orange"}, "mark": {"type": "line", "clip": true, "color": "#ff9a1a", "strokeWidth": 3, "strokeDash": [7, 4], "interpolate": "monotone"},
     "encoding": {"x": {"field": "t", "type": "quantitative", "scale": {"domain": [0, 82.3], "nice": false, "zero": false}, "axis": null},
                  "y": {"field": "p", "type": "quantitative", "scale": {"domain": [113.469, 115.039], "nice": false, "zero": false}, "axis": null}}},
    {"data": {"name": "magenta"}, "mark": {"type": "line", "clip": true, "color": "#ff1aff", "strokeWidth": 3, "interpolate": "monotone"},
     "encoding": {"x": {"field": "t", "type": "quantitative", "scale": {"domain": [0, 82.3], "nice": false, "zero": false}, "axis": null},
                  "y": {"field": "p", "type": "quantitative", "scale": {"domain": [113.469, 115.039], "nice": false, "zero": false}, "axis": null}}},
    {"data": {"name": "r1"}, "mark": {"type": "rule", "color": "#b49a9e", "strokeWidth": 2},
     "encoding": {"x": {"field": "a", "type": "quantitative", "scale": {"domain": [0, 82.3], "nice": false, "zero": false}, "axis": null}, "x2": {"field": "b"},
                  "y": {"datum": 113.586, "type": "quantitative", "scale": {"domain": [113.469, 115.039], "nice": false, "zero": false}, "axis": null}}},
    {"data": {"name": "r1"}, "mark": {"type": "text", "color": "#c8b2b6", "fontSize": 7, "baseline": "bottom", "dy": -0.5},
     "encoding": {"x": {"field": "m", "type": "quantitative", "scale": {"domain": [0, 82.3], "nice": false, "zero": false}, "axis": null},
                  "y": {"datum": 113.586, "type": "quantitative", "scale": {"domain": [113.469, 115.039], "nice": false, "zero": false}, "axis": null},
                  "text": {"field": "n"}}},
    {"data": {"name": "r2"}, "mark": {"type": "rule", "strokeWidth": 2},
     "encoding": {"x": {"field": "a", "type": "quantitative", "scale": {"domain": [0, 82.3], "nice": false, "zero": false}, "axis": null}, "x2": {"field": "b"},
                  "y": {"datum": 113.531, "type": "quantitative", "scale": {"domain": [113.469, 115.039], "nice": false, "zero": false}, "axis": null},
                  "color": {"condition": {"test": "datum.k == 'up'", "value": "#b49a9e"}, "value": "#22a6b4"}}},
    {"data": {"name": "r2"}, "mark": {"type": "text", "fontSize": 7, "baseline": "bottom", "dy": -0.5},
     "encoding": {"x": {"field": "m", "type": "quantitative", "scale": {"domain": [0, 82.3], "nice": false, "zero": false}, "axis": null},
                  "y": {"datum": 113.531, "type": "quantitative", "scale": {"domain": [113.469, 115.039], "nice": false, "zero": false}, "axis": null},
                  "text": {"field": "n"},
                  "color": {"condition": {"test": "datum.k == 'up'", "value": "#c8b2b6"}, "value": "#32b8c4"}}},
    {"data": {"name": "r3"}, "mark": {"type": "rule", "color": "#1c9aa4", "strokeWidth": 2},
     "encoding": {"x": {"field": "a", "type": "quantitative", "scale": {"domain": [0, 82.3], "nice": false, "zero": false}, "axis": null}, "x2": {"field": "b"},
                  "y": {"datum": 113.477, "type": "quantitative", "scale": {"domain": [113.469, 115.039], "nice": false, "zero": false}, "axis": null}}},
    {"data": {"name": "r3"}, "mark": {"type": "text", "color": "#32b8c4", "fontSize": 7, "baseline": "bottom", "dy": -0.5},
     "encoding": {"x": {"field": "m", "type": "quantitative", "scale": {"domain": [0, 82.3], "nice": false, "zero": false}, "axis": null},
                  "y": {"datum": 113.477, "type": "quantitative", "scale": {"domain": [113.469, 115.039], "nice": false, "zero": false}, "axis": null},
                  "text": {"field": "n"}}},
    {"data": {"name": "ann"}, "mark": {"type": "square", "size": 10, "filled": true, "opacity": 1},
     "encoding": {"x": {"field": "t", "type": "quantitative", "scale": {"domain": [0, 82.3], "nice": false, "zero": false}, "axis": null},
                  "y": {"field": "p", "type": "quantitative", "scale": {"domain": [113.469, 115.039], "nice": false, "zero": false}, "axis": null},
                  "color": {"condition": {"test": "datum.k == 'hi'", "value": "#ece4e4"}, "value": "#3cc4d4"}}},
    {"data": {"name": "ann"}, "transform": [{"filter": "datum.k == 'hi'"}],
     "mark": {"type": "text", "align": "left", "baseline": "bottom", "dx": -1, "dy": -4, "fontSize": 7, "lineHeight": 7, "lineBreak": "\n", "color": "#d8d8dc"},
     "encoding": {"x": {"field": "t", "type": "quantitative", "scale": {"domain": [0, 82.3], "nice": false, "zero": false}, "axis": null},
                  "y": {"field": "p", "type": "quantitative", "scale": {"domain": [113.469, 115.039], "nice": false, "zero": false}, "axis": null},
                  "text": {"field": "s"}}},
    {"data": {"name": "ann"}, "transform": [{"filter": "datum.k == 'lo'"}],
     "mark": {"type": "text", "align": "left", "baseline": "top", "dx": -1, "dy": 3, "fontSize": 7, "lineHeight": 7, "lineBreak": "\n", "color": "#3cc4d4"},
     "encoding": {"x": {"field": "t", "type": "quantitative", "scale": {"domain": [0, 82.3], "nice": false, "zero": false}, "axis": null},
                  "y": {"field": "p", "type": "quantitative", "scale": {"domain": [113.469, 115.039], "nice": false, "zero": false}, "axis": null},
                  "text": {"field": "s"}}},
    {"data": {"name": "cycText"}, "mark": {"type": "text", "color": "#3a8fc6", "fontSize": 7.5, "baseline": "middle"},
     "encoding": {"x": {"field": "t", "type": "quantitative", "scale": {"domain": [0, 82.3], "nice": false, "zero": false}, "axis": null},
                  "y": {"datum": 115.0, "type": "quantitative", "scale": {"domain": [113.469, 115.039], "nice": false, "zero": false}, "axis": null},
                  "text": {"field": "n"}}},
    {"data": {"name": "last"}, "mark": {"type": "rect", "color": "#e2e5ea", "cornerRadius": 2},
     "encoding": {"x": {"datum": 82.8, "type": "quantitative", "scale": {"domain": [0, 82.3], "nice": false, "zero": false}, "axis": null},
                  "x2": {"datum": 86.8},
                  "y": {"datum": 113.647, "type": "quantitative", "scale": {"domain": [113.469, 115.039], "nice": false, "zero": false}, "axis": null},
                  "y2": {"datum": 113.741}}},
    {"data": {"name": "last"}, "mark": {"type": "text", "color": "#1a2030", "fontSize": 7.5, "baseline": "middle"},
     "encoding": {"x": {"datum": 84.8, "type": "quantitative", "scale": {"domain": [0, 82.3], "nice": false, "zero": false}, "axis": null},
                  "y": {"field": "p", "type": "quantitative", "scale": {"domain": [113.469, 115.039], "nice": false, "zero": false}, "axis": null},
                  "text": {"field": "s"}}}
  ]
},
{
  "width": 632, "height": 75,
  "resolve": {"axis": {"x": "independent", "y": "independent"}},
  "layer": [
    {"data": {"name": "rsiRef"}, "mark": {"type": "rule", "color": "#9a5a30", "strokeWidth": 1},
     "encoding": {"y": {"field": "v", "type": "quantitative", "scale": {"domain": [15.3, 85.6], "nice": false, "zero": false}, "axis": null}}},
    {"data": {"name": "rsiP"}, "mark": {"type": "line", "color": "#8e5aa6", "strokeWidth": 1.2, "interpolate": "monotone"},
     "encoding": {"x": {"field": "t", "type": "quantitative", "scale": {"domain": [0, 82.3], "nice": false, "zero": false},
                        "axis": {"orient": "bottom", "values": [0, 24, 48, 72], "labels": false, "grid": true, "gridColor": "#4a5366", "minExtent": 0, "maxExtent": 0}},
                  "y": {"field": "v", "type": "quantitative", "scale": {"domain": [15.3, 85.6], "nice": false, "zero": false},
                        "axis": {"orient": "left", "values": [20, 30, 40, 50, 60, 70, 80], "grid": true, "labelPadding": 2, "minExtent": 32, "maxExtent": 32}}}},
    {"data": {"name": "rsiT"}, "mark": {"type": "line", "color": "#1a9a9a", "strokeWidth": 1.2, "interpolate": "monotone"},
     "encoding": {"x": {"field": "t", "type": "quantitative", "scale": {"domain": [0, 82.3], "nice": false, "zero": false}, "axis": null},
                  "y": {"field": "v", "type": "quantitative", "scale": {"domain": [15.3, 85.6], "nice": false, "zero": false},
                        "axis": {"orient": "right", "values": [20, 30, 40, 50, 60, 70, 80], "grid": false, "labelPadding": 4, "minExtent": 36, "maxExtent": 36}}}},
    {"data": {"name": "rsiG"}, "mark": {"type": "line", "color": "#34c450", "strokeWidth": 1.2},
     "encoding": {"x": {"field": "t", "type": "quantitative", "scale": {"domain": [0, 82.3], "nice": false, "zero": false}, "axis": null},
                  "y": {"field": "v", "type": "quantitative", "scale": {"domain": [15.3, 85.6], "nice": false, "zero": false}, "axis": null}}},
    {"data": {"name": "rsiO"}, "mark": {"type": "line", "color": "#f0a040", "strokeWidth": 1.6, "strokeDash": [3, 2], "interpolate": "monotone"},
     "encoding": {"x": {"field": "t", "type": "quantitative", "scale": {"domain": [0, 82.3], "nice": false, "zero": false}, "axis": null},
                  "y": {"field": "v", "type": "quantitative", "scale": {"domain": [15.3, 85.6], "nice": false, "zero": false}, "axis": null}}},
    {"data": {"name": "sep"}, "mark": {"type": "rule", "color": "#b4b8c0", "strokeWidth": 1},
     "encoding": {"x": {"field": "a", "type": "quantitative", "scale": {"domain": [0, 82.3], "nice": false, "zero": false}, "axis": null}, "x2": {"field": "b"},
                  "y": {"datum": 85.6, "type": "quantitative", "scale": {"domain": [15.3, 85.6], "nice": false, "zero": false}, "axis": null}}},
    {"data": {"name": "rsiRef"}, "mark": {"type": "text", "text": "RSI", "color": "#c0c4cc", "fontSize": 7.5, "align": "left", "baseline": "middle"},
     "encoding": {"x": {"datum": 0.3, "type": "quantitative", "scale": {"domain": [0, 82.3], "nice": false, "zero": false}, "axis": null},
                  "y": {"datum": 77.5, "type": "quantitative", "scale": {"domain": [15.3, 85.6], "nice": false, "zero": false}, "axis": null}}}
  ]
},
{
  "width": 632, "height": 65,
  "resolve": {"axis": {"x": "independent", "y": "independent"}},
  "layer": [
    {"data": {"name": "macdRef"}, "mark": {"type": "rule", "color": "#9a5a30", "strokeWidth": 1},
     "encoding": {"y": {"field": "v", "type": "quantitative", "scale": {"domain": [-0.241, 0.29], "nice": false, "zero": false}, "axis": null}}},
    {"data": {"name": "macdY"}, "mark": {"type": "line", "color": "#b4ac22", "strokeWidth": 1.2, "interpolate": "monotone"},
     "encoding": {"x": {"field": "t", "type": "quantitative", "scale": {"domain": [0, 82.3], "nice": false, "zero": false},
                        "axis": {"orient": "bottom", "values": [0, 24, 48, 72], "labelExpr": "datum.value == 0 ? '01/19' : datum.value == 24 ? '01/20' : datum.value == 48 ? '01/21' : '01/22'", "grid": true, "gridColor": "#4a5366", "labelPadding": 4, "minExtent": 17, "maxExtent": 17}},
                  "y": {"field": "v", "type": "quantitative", "scale": {"domain": [-0.241, 0.29], "nice": false, "zero": false},
                        "axis": {"orient": "left", "values": [-0.2, -0.1, 0, 0.1, 0.2], "format": ".1f", "grid": true, "labelPadding": 2, "minExtent": 32, "maxExtent": 32}}}},
    {"data": {"name": "macdB"}, "mark": {"type": "line", "color": "#2a2aff", "strokeWidth": 1.2, "interpolate": "monotone"},
     "encoding": {"x": {"field": "t", "type": "quantitative", "scale": {"domain": [0, 82.3], "nice": false, "zero": false}, "axis": null},
                  "y": {"field": "v", "type": "quantitative", "scale": {"domain": [-0.241, 0.29], "nice": false, "zero": false},
                        "axis": {"orient": "right", "values": [-0.2, -0.1, 0, 0.1, 0.2], "format": ".1f", "grid": false, "labelPadding": 4, "minExtent": 36, "maxExtent": 36}}}},
    {"data": {"name": "sep"}, "mark": {"type": "rule", "color": "#b4b8c0", "strokeWidth": 1},
     "encoding": {"x": {"field": "a", "type": "quantitative", "scale": {"domain": [0, 82.3], "nice": false, "zero": false}, "axis": null}, "x2": {"field": "b"},
                  "y": {"datum": 0.29, "type": "quantitative", "scale": {"domain": [-0.241, 0.29], "nice": false, "zero": false}, "axis": null}}},
    {"data": {"name": "macdRef"}, "mark": {"type": "text", "text": "MACD", "color": "#c0c4cc", "fontSize": 7.5, "align": "left", "baseline": "middle"},
     "encoding": {"x": {"datum": 0.3, "type": "quantitative", "scale": {"domain": [0, 82.3], "nice": false, "zero": false}, "axis": null},
                  "y": {"datum": 0.235, "type": "quantitative", "scale": {"domain": [-0.241, 0.29], "nice": false, "zero": false}, "axis": null}}}
  ]
}
]
}
